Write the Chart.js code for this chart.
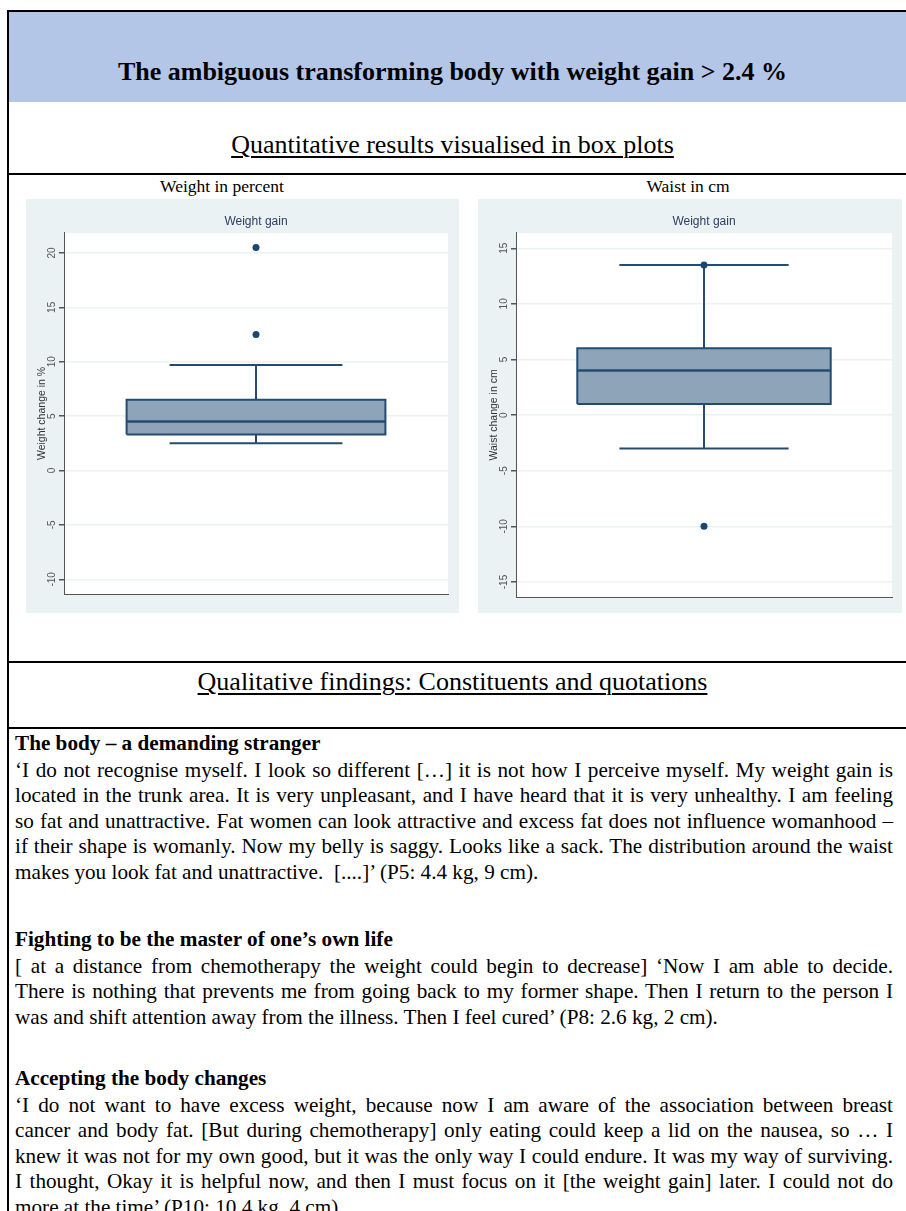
<!DOCTYPE html>
<html>
<head>
<meta charset="utf-8">
<script src="https://cdn.jsdelivr.net/npm/chart.js@4.4.1/dist/chart.umd.min.js"></script>
<style>
  body { margin: 0; width: 906px; height: 1211px; overflow: hidden; background: #fff; position: relative;
         font-family: 'Liberation Serif', 'Times New Roman', serif; color: #000; }
  .abs { position: absolute; }
  .frame { left: 7px; top: 10px; width: 1000px; height: 1300px; border: 2px solid #000; box-sizing: border-box; }
  .band { left: 9px; top: 12px; width: 1000px; height: 90px; background: #b4c6e7; }
  .hline { left: 7px; width: 1000px; height: 2px; background: #000; }
  .center { left: 0; width: 905px; text-align: center; white-space: nowrap; }
  .title { top: 57px; height: 30px; line-height: 30px; font-size: 26px; font-weight: bold; }
  .section { height: 30px; line-height: 30px; font-size: 26px; text-decoration: underline; text-decoration-thickness: 1.5px; text-underline-offset: 3px; }
  .caption { top: 176px; width: 200px; height: 20px; line-height: 20px; font-size: 17.5px; text-align: center; white-space: nowrap; }
  .panel { background: #eaf2f3; }
  .block { left: 15px; width: 878px; font-size: 21.2px; line-height: 25.6px; }
  .block b { display: block; margin-bottom: 1px; }
  .block div { white-space: nowrap; }
  .j { text-align: justify; text-align-last: justify; }
</style>
</head>
<body>
<div class="abs frame"></div>
<div class="abs band"></div>
<div class="abs hline" style="top:173px"></div>
<div class="abs hline" style="top:661px"></div>
<div class="abs hline" style="top:727px"></div>

<div class="abs center title">The ambiguous transforming body with weight gain &gt; 2.4 %</div>
<div class="abs center section" style="top:130px">Quantitative results visualised in box plots</div>
<div class="abs caption" style="left:122px">Weight in percent</div>
<div class="abs caption" style="left:588px">Waist in cm</div>

<canvas id="weight-chart" class="abs panel" width="433" height="414" style="left:26px; top:199px"></canvas>
<canvas id="waist-chart" class="abs panel" width="424" height="414" style="left:478px; top:199px"></canvas>

<div class="abs center section" style="top:667px">Qualitative findings: Constituents and quotations</div>

<div class="abs block" style="top:731px">
  <b>The body – a demanding stranger</b>
  <div class="j">‘I do not recognise myself. I look so different […] it is not how I perceive myself. My weight gain is</div>
  <div class="j">located in the trunk area. It is very unpleasant, and I have heard that it is very unhealthy. I am feeling</div>
  <div class="j">so fat and unattractive. Fat women can look attractive and excess fat does not influence womanhood –</div>
  <div class="j">if their shape is womanly. Now my belly is saggy. Looks like a sack. The distribution around the waist</div>
  <div>makes you look fat and unattractive. &nbsp;[....]’ (P5: 4.4 kg, 9 cm).</div>
</div>

<div class="abs block" style="top:927px">
  <b>Fighting to be the master of one’s own life</b>
  <div class="j">[ at a distance from chemotherapy the weight could begin to decrease] ‘Now I am able to decide.</div>
  <div class="j">There is nothing that prevents me from going back to my former shape. Then I return to the person I</div>
  <div>was and shift attention away from the illness. Then I feel cured’ (P8: 2.6 kg, 2 cm).</div>
</div>

<div class="abs block" style="top:1066px">
  <b>Accepting the body changes</b>
  <div class="j">‘I do not want to have excess weight, because now I am aware of the association between breast</div>
  <div class="j">cancer and body fat. [But during chemotherapy] only eating could keep a lid on the nausea, so … I</div>
  <div class="j">knew it was not for my own good, but it was the only way I could endure. It was my way of surviving.</div>
  <div class="j">I thought, Okay it is helpful now, and then I must focus on it [the weight gain] later. I could not do</div>
  <div>more at the time’ (P10: 10.4 kg, 4 cm).</div>
</div>

<script>
// box stats: low whisker, q1, median, q3, high whisker
const weightStats = [2.5, 3.3, 4.5, 6.5, 9.7];
const weightOutliers = [12.5, 20.5];
const weightTicks = [-10, -5, 0, 5, 10, 15, 20];
const weightRange = [-11.35, 21.84];

const waistStats = [-3, 1, 4, 6, 13.5];
const waistOutliers = [13.5, -10];
const waistTicks = [-15, -10, -5, 0, 5, 10, 15];
const waistRange = [-16.35, 16.38];

const navy = '#244b72';

Chart.defaults.font.family = "'Liberation Sans', Arial, sans-serif";

// white plot region on the grey-blue panel
const plotBg = {
  id: 'plotBg',
  beforeDraw: (chart) => {
    const { ctx, chartArea: a } = chart;
    ctx.save();
    ctx.fillStyle = '#ffffff';
    ctx.fillRect(a.left, a.top, a.right - a.left, a.bottom - a.top);
    ctx.restore();
  },
};

const boxPlot = (id, stats, outliers, ticks, range, yTitle, pad) => {
  const [lo, q1, med, q3, hi] = stats;
  const c = 0.5;
  const bw = 0.337; // half box width (x units)
  const cw = 0.225; // half cap width

  const seg = (pts) => ({
    data: pts,
    showLine: true,
    borderColor: navy,
    borderWidth: 2,
    pointRadius: 0,
    fill: false,
  });

  new Chart(document.getElementById(id), {
    type: 'scatter',
    data: {
      datasets: [
        {
          data: outliers.map((v) => ({ x: c, y: v })),
          pointRadius: 3.5,
          backgroundColor: '#1a476f',
          borderWidth: 0,
        },
        { ...seg([{ x: c - bw, y: med }, { x: c + bw, y: med }]), borderWidth: 2.5 },
        seg([{ x: c - cw, y: hi }, { x: c + cw, y: hi }]),
        seg([{ x: c, y: q3 }, { x: c, y: hi }]),
        seg([{ x: c - cw, y: lo }, { x: c + cw, y: lo }]),
        seg([{ x: c, y: lo }, { x: c, y: q1 }]),
        {
          ...seg([
            { x: c - bw, y: q1 },
            { x: c + bw, y: q1 },
            { x: c + bw, y: q3 },
            { x: c - bw, y: q3 },
            { x: c - bw, y: q1 },
          ]),
          fill: 'shape',
          backgroundColor: '#8ea4b9',
        },
      ],
    },
    options: {
      responsive: false,
      animation: false,
      layout: { padding: pad },
      plugins: {
        legend: { display: false },
        tooltip: { enabled: false },
        title: {
          display: true,
          fullSize: false,
          text: 'Weight gain',
          color: '#2f3b63',
          font: { size: 12, weight: 'normal' },
          padding: { top: 15.5, bottom: 4 },
        },
      },
      scales: {
        x: {
          type: 'linear',
          min: 0,
          max: 1,
          ticks: { display: false },
          grid: { display: false },
          border: { display: true, color: '#555', width: 1 },
          afterFit: (scale) => { scale.height = 0; },
        },
        y: {
          min: range[0],
          max: range[1],
          afterBuildTicks: (scale) => { scale.ticks = ticks.map((v) => ({ value: v })); },
          afterFit: (scale) => { scale.width = 38; },
          ticks: {
            minRotation: 90,
            maxRotation: 90,
            crossAlign: 'center',
            padding: 0,
            color: '#555',
            font: { size: 10 },
          },
          grid: { color: '#eaf2f3', lineWidth: 1.5, tickColor: '#555', tickLength: 5 },
          border: { display: true, color: '#555', width: 1 },
          title: {
            display: true,
            text: yTitle,
            color: '#333',
            font: { size: 10.5 },
            padding: { top: 10, bottom: 0 },
          },
        },
      },
    },
    plugins: [plotBg],
  });
};

boxPlot('weight-chart', weightStats, weightOutliers, weightTicks, weightRange, 'Weight change in %',
  { left: 0, right: 11, top: 0, bottom: 19 });
boxPlot('waist-chart', waistStats, waistOutliers, waistTicks, waistRange, 'Waist change in cm',
  { left: 0, right: 10, top: 0, bottom: 16 });
</script>
</body>
</html>
